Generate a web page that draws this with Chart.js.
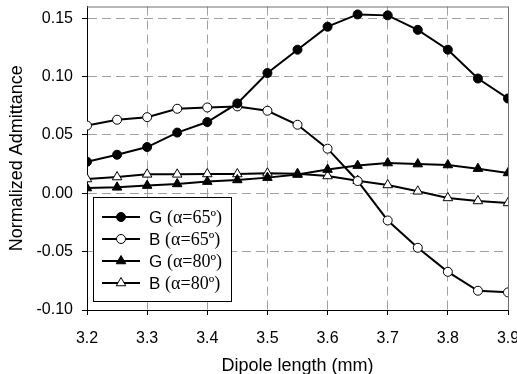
<!DOCTYPE html>
<html>
<head>
<meta charset="UTF-8">
<title>Normalized Admittance</title>
<script src="https://cdn.jsdelivr.net/npm/chart.js"></script>
<style>
  body { margin: 0; background: #fff; }
  canvas { display: block; }
</style>
</head>
<body>
<canvas id="chart" width="517" height="374"></canvas>
<script>
  // dipole length (mm)
  const lengths = [3.2, 3.25, 3.3, 3.35, 3.4, 3.45, 3.5, 3.55, 3.6, 3.65, 3.7, 3.75, 3.8, 3.85, 3.9];
  const g65 = [0.027, 0.033, 0.0396, 0.052, 0.061, 0.077, 0.103, 0.123, 0.1427, 0.1532, 0.1524, 0.140, 0.123, 0.0983, 0.0812];
  const b65 = [0.058, 0.063, 0.0652, 0.0724, 0.0735, 0.0744, 0.0707, 0.0587, 0.0382, 0.0105, -0.0233, -0.0467, -0.0673, -0.0835, -0.0849];
  const g80 = [0.0045, 0.0051, 0.0066, 0.008, 0.010, 0.0114, 0.0134, 0.016, 0.0203, 0.0237, 0.0259, 0.025, 0.0242, 0.0211, 0.0174];
  const b80 = [0.0122, 0.0139, 0.0162, 0.0162, 0.0165, 0.0165, 0.0171, 0.0168, 0.0148, 0.0108, 0.0071, 0.0017, -0.004, -0.0066, -0.0083];

  const xTicks = [3.2, 3.3, 3.4, 3.5, 3.6, 3.7, 3.8, 3.9];
  const yTicks = [-0.10, -0.05, 0.00, 0.05, 0.10, 0.15];
  const seriesNames = ['G (α=65º)', 'B (α=65º)', 'G (α=80º)', 'B (α=80º)'];

  function pts(vals) {
    return lengths.map((x, i) => ({ x: x, y: vals[i] }));
  }

  function series(label, vals, style, fill) {
    return {
      label: label,
      data: pts(vals),
      borderColor: '#000',
      borderWidth: 2,
      pointStyle: style,
      pointRadius: style === 'circle' ? 4.5 : 5.5,
      pointBackgroundColor: fill,
      pointBorderColor: '#000',
      pointBorderWidth: 1,
      tension: 0
    };
  }

  const datasets = [
    series(seriesNames[0], g65, 'circle', '#000'),
    series(seriesNames[1], b65, 'circle', '#fff'),
    series(seriesNames[2], g80, 'triangle', '#000'),
    series(seriesNames[3], b80, 'triangle', '#fff')
  ];

  // top/right frame + boxed legend
  const framePlugin = {
    id: 'frame',
    beforeDatasetsDraw(chart) {
      const a = chart.chartArea, ctx = chart.ctx;
      ctx.save();
      ctx.strokeStyle = '#707070';
      ctx.lineWidth = 1;
      ctx.beginPath();
      ctx.moveTo(a.left, a.top + 0.5);
      ctx.lineTo(a.right + 0.5, a.top + 0.5);
      ctx.lineTo(a.right + 0.5, a.bottom);
      ctx.stroke();
      ctx.restore();
    },
    afterDraw(chart) {
      const ctx = chart.ctx;
      const bx = 93, by = 197, bw = 138, bh = 104;
      ctx.save();
      ctx.fillStyle = '#fff';
      ctx.fillRect(bx, by, bw, bh);
      ctx.strokeStyle = '#000';
      ctx.lineWidth = 1;
      ctx.strokeRect(bx + 0.5, by + 0.5, bw, bh);
      datasets.forEach((ds, i) => {
        const cy = 217 + i * 22;
        ctx.strokeStyle = '#000';
        ctx.lineWidth = 2;
        ctx.beginPath();
        ctx.moveTo(102, cy);
        ctx.lineTo(140, cy);
        ctx.stroke();
        ctx.fillStyle = ds.pointBackgroundColor;
        ctx.lineWidth = 1;
        Chart.helpers.drawPoint(ctx, { pointStyle: ds.pointStyle, radius: ds.pointRadius, borderWidth: 1 }, 121, cy);
        ctx.fillStyle = '#000';
        ctx.textBaseline = 'middle';
        ctx.font = '17px "Liberation Sans", Arial, sans-serif';
        const head = ds.label.slice(0, 2);
        ctx.fillText(head, 149, cy + 1);
        const w = ctx.measureText(head).width;
        ctx.font = '18px "Liberation Serif", "Times New Roman", serif';
        ctx.fillText(ds.label.slice(2), 149 + w, cy + 1);
      });
      ctx.restore();
    }
  };

  new Chart(document.getElementById('chart'), {
    type: 'line',
    data: { datasets: datasets },
    plugins: [framePlugin],
    options: {
      responsive: false,
      animation: false,
      devicePixelRatio: 1,
      layout: { padding: { top: 6, right: 9, left: 0, bottom: 0 } },
      plugins: { legend: { display: false }, tooltip: { enabled: false } },
      scales: {
        x: {
          type: 'linear',
          min: 3.2,
          max: 3.9,
          afterBuildTicks: s => { s.ticks = xTicks.map(v => ({ value: v })); },
          afterFit: s => { s.height = 64; s.paddingLeft = 0; s.paddingRight = 0; },
          ticks: {
            color: '#000',
            padding: 14,
            maxRotation: 0,
            font: { family: '"Liberation Sans", Arial, sans-serif', size: 16 },
            callback: v => v.toFixed(1)
          },
          grid: { color: '#a0a0a0', lineWidth: 1, tickLength: 5, tickColor: '#000', tickBorderDash: [] },
          border: { color: '#000', width: 1, dash: [9, 5] },
          title: {
            display: true,
            text: 'Dipole length (mm)',
            color: '#000',
            padding: { top: 0, bottom: -3 },
            font: { family: '"Liberation Sans", Arial, sans-serif', size: 18 }
          }
        },
        y: {
          type: 'linear',
          min: -0.10,
          max: 0.16,
          afterBuildTicks: s => { s.ticks = yTicks.map(v => ({ value: v })); },
          afterFit: s => { s.width = 87; s.paddingTop = 0; s.paddingBottom = 0; },
          ticks: {
            color: '#000',
            padding: 9,
            font: { family: '"Liberation Sans", Arial, sans-serif', size: 16 },
            callback: v => v.toFixed(2)
          },
          grid: { color: '#a0a0a0', lineWidth: 1, tickLength: 5, tickColor: '#000', tickBorderDash: [] },
          border: { color: '#000', width: 1, dash: [9, 5] },
          title: {
            display: true,
            text: 'Normalized Admittance',
            color: '#000',
            padding: { top: 6, bottom: 4 },
            font: { family: '"Liberation Sans", Arial, sans-serif', size: 18 }
          }
        }
      }
    }
  });
</script>
</body>
</html>
